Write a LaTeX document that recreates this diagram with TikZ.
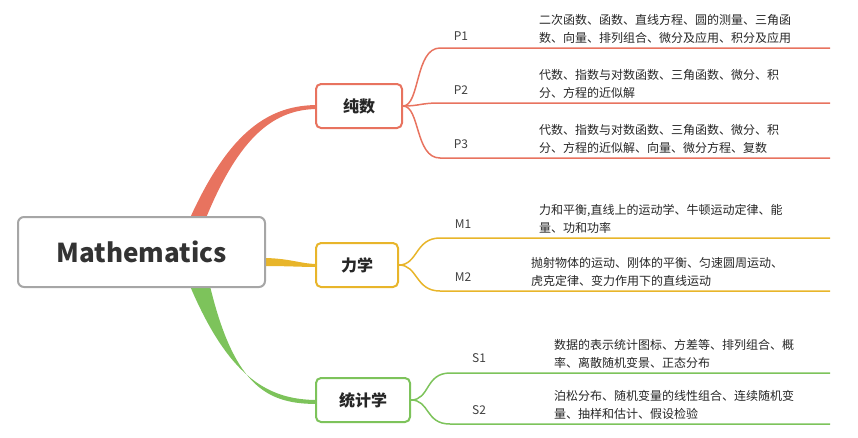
\documentclass[tikz,border=0pt]{standalone}
\usepackage{fontspec}
\setmainfont{Noto Sans CJK SC}
\begin{document}
\begin{tikzpicture}[x=1pt,y=-1pt,
  main/.style={draw=gray!70,line width=2pt,rounded corners=6pt,fill=white,minimum width=247pt,minimum height=70pt,font=\fontsize{26}{30}\selectfont\bfseries,text=black!80},
  topic/.style={draw=#1,line width=2pt,rounded corners=5pt,fill=white,minimum height=44pt,font=\fontsize{16}{19}\selectfont\bfseries,text=black!85},
  lbl/.style={font=\fontsize{12}{14}\selectfont,text=black!75},
  desc/.style={font=\fontsize{12}{18}\selectfont,text=black!85,align=left,anchor=south west,inner sep=1pt},
  br/.style={draw=#1,line width=1.5pt}]
\definecolor{cr}{HTML}{E8735F}
\definecolor{co}{HTML}{E8B52A}
\definecolor{cg}{HTML}{7DC35B}
\useasboundingbox (0,0) rectangle (858,437);
\fill[cr] (190,218) .. controls (230,130) and (270,105) .. (318,105) -- (318,109) .. controls (275,109) and (240,135) .. (206,218) -- cycle;
\fill[co] (262,258) .. controls (290,258) and (300,264) .. (318,264) -- (318,267) .. controls (300,267) and (290,266) .. (262,266) -- cycle;
\fill[cg] (190,286) .. controls (230,380) and (270,400) .. (318,400) -- (318,404) .. controls (270,404) and (235,390) .. (210,286) -- cycle;
\node[main] (root) at (141.5,252) {Mathematics};
\node[topic=cr,minimum width=86pt] (pure) at (359,106) {纯数};
\node[topic=co,minimum width=82pt] (mech) at (357,265) {力学};
\node[topic=cg,minimum width=94pt] (stat) at (363,400) {统计学};
\coordinate (p1a) at (440,48); \coordinate (p1b) at (830,48);
\coordinate (p2a) at (440,103); \coordinate (p2b) at (830,103);
\coordinate (p3a) at (440,158); \coordinate (p3b) at (830,158);
\draw[br=cr] (pure.east) .. controls (420,106) and (415,48) .. (p1a) -- (p1b);
\draw[br=cr] (pure.east) .. controls (420,106) and (420,103) .. (p2a) -- (p2b);
\draw[br=cr] (pure.east) .. controls (420,106) and (415,158) .. (p3a) -- (p3b);
\node[lbl] (P1) at (461,36) {P1};
\node[lbl] (P2) at (461,90) {P2};
\node[lbl] (P3) at (461,144) {P3};
\node[desc] (t1) at (538,45) {二次函数、函数、直线方程、圆的测量、三角函\\数、向量、排列组合、微分及应用、积分及应用};
\node[desc] (t2) at (538,100) {代数、指数与对数函数、三角函数、微分、积\\分、方程的近似解};
\node[desc] (t3) at (538,155) {代数、指数与对数函数、三角函数、微分、积\\分、方程的近似解、向量、微分方程、复数};
\coordinate (m1a) at (440,238); \coordinate (m1b) at (830,238);
\coordinate (m2a) at (440,291); \coordinate (m2b) at (830,291);
\draw[br=co] (mech.east) .. controls (418,265) and (415,238) .. (m1a) -- (m1b);
\draw[br=co] (mech.east) .. controls (418,265) and (415,291) .. (m2a) -- (m2b);
\node[lbl] (M1) at (463,224) {M1};
\node[lbl] (M2) at (463,277) {M2};
\node[desc] (t4) at (538,235) {力和平衡,直线上的运动学、牛顿运动定律、能\\量、功和功率};
\node[desc] (t5) at (530,288) {抛射物体的运动、刚体的平衡、匀速圆周运动、\\虎克定律、变力作用下的直线运动};
\coordinate (s1a) at (450,373); \coordinate (s1b) at (830,373);
\coordinate (s2a) at (450,424); \coordinate (s2b) at (830,424);
\draw[br=cg] (stat.east) .. controls (430,400) and (425,373) .. (s1a) -- (s1b);
\draw[br=cg] (stat.east) .. controls (430,400) and (425,424) .. (s2a) -- (s2b);
\node[lbl] (S1) at (479,358) {S1};
\node[lbl] (S2) at (479,410) {S2};
\node[desc] (t6) at (553,370) {数据的表示统计图标、方差等、排列组合、概\\率、离散随机变景、正态分布};
\node[desc] (t7) at (553,421) {泊松分布、随机变量的线性组合、连续随机变\\量、抽样和估计、假设检验};
\end{tikzpicture}
\end{document}
